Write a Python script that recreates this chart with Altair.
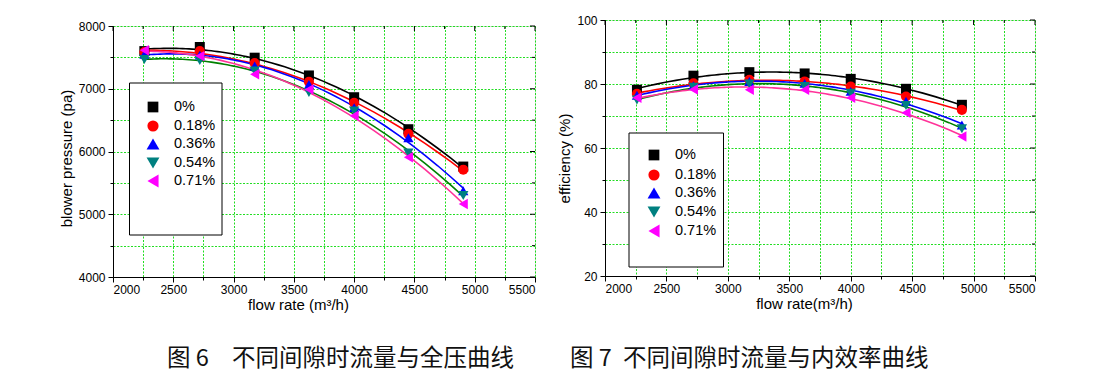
import altair as alt
import pandas as pd

# ---------------- data ----------------
series = ["0%", "0.18%", "0.36%", "0.54%", "0.71%"]
flow = [2260, 2720, 3175, 3625, 4000, 4450, 4905]

p_0 = [7600, 7665, 7495, 7212, 6865, 6355, 5760]
p_018 = [7585, 7600, 7408, 7110, 6775, 6280, 5710]
p_036 = [7548, 7535, 7362, 7068, 6700, 6220, 5375]
p_054 = [7465, 7450, 7283, 6940, 6645, 5975, 5300]
p_071 = [7615, 7520, 7230, 6990, 6570, 5910, 5165]

e_0 = [78.2, 82.6, 83.7, 83.3, 81.6, 78.5, 73.5]
e_018 = [76.9, 80.2, 81.3, 80.8, 79.2, 76.1, 71.9]
e_036 = [76.5, 79.5, 80.8, 80.2, 77.7, 74.6, 67.2]
e_054 = [75.0, 79.0, 80.0, 79.2, 77.1, 73.3, 66.0]
e_071 = [75.7, 78.3, 78.2, 78.2, 75.7, 71.0, 63.6]

x_ticks = list(range(2000, 5501, 250))
p_ticks = list(range(4000, 8001, 500))
e_ticks = list(range(20, 101, 10))

marker_colors = ["#000000", "#ff0000", "#0000ff", "#008080", "#ff00ff"]
shapes = ["square", "circle", "triangle-up", "triangle-down", "triangle-left"]
marker_sizes = [100, 110, 150, 150, 150]
line_colors_p = ["#000000", "#ff0000", "#0000ff", "#008000", "#ff3399"]
line_colors_e = ["#000000", "#ff0000", "#0000ff", "#008080", "#ff00ff"]

caption_p = ["图 6", "不同间隙时流量与全压曲线"]
caption_e = ["图 7", "不同间隙时流量与内效率曲线"]


def long_df(cols):
    rows = []
    for s, vals in zip(series, cols):
        for f, v in zip(flow, vals):
            rows.append({"series": s, "flow": f, "value": v})
    return pd.DataFrame(rows)


df_p = long_df([p_0, p_018, p_036, p_054, p_071])
df_e = long_df([e_0, e_018, e_036, e_054, e_071])

FONT = "Liberation Sans"
GRID = "#22dd22"


def panel(df, W, H, ydom, yticks, ymajor, ytitle, xtitle, line_colors,
          xtitle_x, ytitle_y, box, sym_x, txt_x, rows_y, lab_size,
          caption, cap_x, cap_y):
    xaxis = alt.Axis(
        values=x_ticks, format="d",
        labelExpr="datum.value % 500 === 0 ? datum.label : ''",
        tickSize={"condition": {"test": "datum.value % 500 === 0", "value": 5}, "value": 3},
        tickColor="black", domainColor="black", labelColor="black",
        labelFont=FONT, labelFontSize=12, labelPadding=2,
        grid=True, gridColor=GRID, gridDash=[2, 1.5], gridWidth=1,
        title=xtitle, titleFont=FONT, titleFontSize=15, titleFontWeight="normal",
        titleColor="black", titleX=xtitle_x, titleAlign="center", titlePadding=2,
    )
    yaxis = alt.Axis(
        values=yticks, format="d",
        labelExpr=f"datum.value % {ymajor} === 0 ? datum.label : ''",
        tickSize={"condition": {"test": f"datum.value % {ymajor} === 0", "value": 5}, "value": 3},
        tickColor="black", domainColor="black", labelColor="black",
        labelFont=FONT, labelFontSize=12, labelPadding=3,
        grid=True, gridColor=GRID, gridDash=[2, 1.5], gridWidth=1,
        title=ytitle, titleFont=FONT, titleFontSize=15, titleFontWeight="normal",
        titleColor="black", titleY=ytitle_y, titlePadding=4,
    )
    X = alt.X("flow:Q", scale=alt.Scale(domain=[2000, 5500], nice=False, zero=False), axis=xaxis)
    Y = alt.Y("value:Q", scale=alt.Scale(domain=ydom, nice=False, zero=False), axis=yaxis)

    base = alt.Chart(df)
    lines = base.transform_regression(
        "flow", "value", groupby=["series"], method="poly", order=2
    ).mark_line(strokeWidth=1.6).encode(
        x=X, y=Y,
        stroke=alt.Stroke("series:N", scale=alt.Scale(domain=series, range=line_colors), legend=None),
    )
    pts = base.mark_point(filled=True, opacity=1).encode(
        x=X, y=Y,
        fill=alt.Fill("series:N", scale=alt.Scale(domain=series, range=marker_colors), legend=None),
        shape=alt.Shape("series:N", scale=alt.Scale(domain=series, range=shapes), legend=None),
        size=alt.Size("series:N", scale=alt.Scale(domain=series, range=marker_sizes), legend=None),
    )
    layers = [lines, pts]

    # inward ticks on top and right borders
    xt = alt.Chart(pd.DataFrame({"flow": x_ticks}))
    layers.append(xt.transform_filter("datum.flow % 500 === 0").mark_rule(color="black", strokeWidth=1).encode(
        x=X, y=alt.value(0), y2=alt.value(5)))
    layers.append(xt.transform_filter("datum.flow % 500 !== 0").mark_rule(color="black", strokeWidth=1).encode(
        x=X, y=alt.value(0), y2=alt.value(3)))
    yt = alt.Chart(pd.DataFrame({"value": yticks}))
    layers.append(yt.transform_filter(f"datum.value % {ymajor} === 0").mark_rule(color="black", strokeWidth=1).encode(
        y=Y, x=alt.value(W - 5), x2=alt.value(W)))
    layers.append(yt.transform_filter(f"datum.value % {ymajor} !== 0").mark_rule(color="black", strokeWidth=1).encode(
        y=Y, x=alt.value(W - 3), x2=alt.value(W)))

    one = pd.DataFrame({"k": [0]})
    bx0, bx1, by0, by1 = box
    layers.append(alt.Chart(one).mark_rect(fill="white", stroke="black", strokeWidth=1).encode(
        x=alt.value(bx0), x2=alt.value(bx1), y=alt.value(by0), y2=alt.value(by1)))
    for s, c, sh, sz, ry in zip(series, marker_colors, shapes, marker_sizes, rows_y):
        layers.append(alt.Chart(one).mark_point(filled=True, size=sz + 15, opacity=1, fill=c, shape=sh).encode(
            x=alt.value(sym_x), y=alt.value(ry)))
        layers.append(alt.Chart(pd.DataFrame({"t": [s]})).mark_text(
            align="left", baseline="middle", font=FONT, fontSize=lab_size, color="black").encode(
            x=alt.value(txt_x), y=alt.value(ry), text="t:N"))
    # caption
    for part, cx in zip(caption, cap_x):
        layers.append(alt.Chart(pd.DataFrame({"t": [part]})).mark_text(
            align="left", baseline="middle", font="Noto Sans CJK SC", fontSize=23.5,
            color="#111111").encode(x=alt.value(cx), y=alt.value(cap_y), text="t:N"))
    return alt.layer(*layers).properties(width=W, height=H)


left = panel(df_p, 422, 251, [4000, 8000], p_ticks, 1000, "blower pressure (pa)",
             "flow rate (m³/h)", line_colors_p, 185, 132,
             (16.5, 109, 57, 209), 40, 61, [81, 100, 118, 137, 155], 14.5,
             caption_p, [54, 119], 332.5)
right = panel(df_e, 430, 256, [20, 100], e_ticks, 20, "efficiency (%)",
              "flow rate(m³/h)", line_colors_e, 199, 138,
              (24, 118.5, 113, 247), 49, 70, [135, 155, 173, 192, 211], 14.5,
              caption_e, [-35, 18], 338.5)

spacer = alt.Chart(pd.DataFrame({"t": [""]})).mark_text().encode(
    x=alt.value(0), y=alt.value(0), text="t:N"
).properties(width=422, height=1, view=alt.ViewBackground(stroke="transparent"))

left_col = alt.vconcat(spacer, left, spacing=-8)

chart = alt.hconcat(left_col, right, spacing=21).configure_view(
    stroke="black", strokeWidth=1.2
).configure(padding={"left": 50, "top": 5, "right": 5, "bottom": 5}, background="white")

chart.save("out.html", embed_options={"renderer": "svg", "actions": False})
